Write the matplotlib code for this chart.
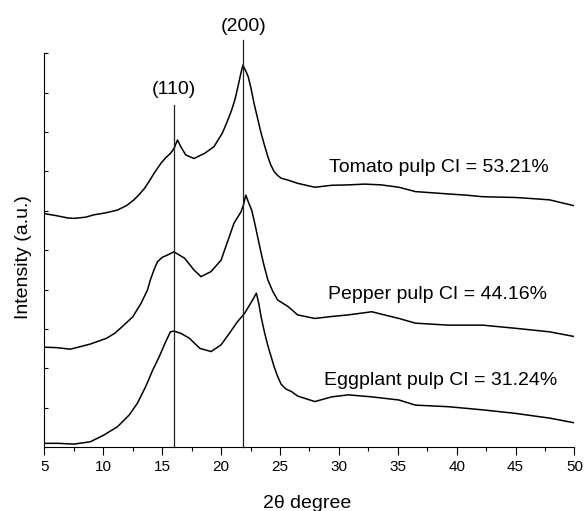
import matplotlib
matplotlib.use("Agg")
import matplotlib.pyplot as plt
from matplotlib.ticker import MultipleLocator

plt.rcParams['font.family'] = ['Liberation Sans', 'DejaVu Sans']

# ---- data ----
tomato_x = [5.0, 6.0, 7.0, 7.5, 8.5, 9.2, 10.2, 11.2, 12.0, 12.6, 13.0, 13.5, 14.0, 14.3, 14.9,
            15.3, 15.7, 16.0, 16.3, 16.6, 17.0, 17.7, 18.6, 19.4, 20.1, 20.5, 20.9, 21.2, 21.4,
            21.65, 21.85, 22.1, 22.3, 22.55, 22.8, 23.1, 23.4, 23.7, 23.97, 24.2, 24.5, 24.8,
            25.1, 25.7, 26.5, 27.96, 29.4, 30.8, 32.2, 33.6, 35.1, 36.5, 37.9, 39.3, 40.8,
            42.2, 43.6, 45.0, 46.5, 47.9, 49.0, 50.0]
tomato_y = [5.93, 5.88, 5.82, 5.81, 5.84, 5.90, 5.95, 6.02, 6.14, 6.28, 6.40, 6.57, 6.80, 6.95, 7.21,
            7.35, 7.46, 7.58, 7.80, 7.62, 7.42, 7.33, 7.46, 7.63, 7.97, 8.25, 8.56, 8.85, 9.11,
            9.45, 9.70, 9.55, 9.41, 9.10, 8.73, 8.35, 7.97, 7.65, 7.38, 7.18, 7.00, 6.90,
            6.83, 6.78, 6.70, 6.60, 6.65, 6.66, 6.68, 6.66, 6.60, 6.49, 6.46, 6.43, 6.40,
            6.36, 6.35, 6.34, 6.31, 6.28, 6.20, 6.13]

pepper_x = [5.0, 6.0, 7.2, 8.0, 8.9, 10.3, 11.0, 11.6, 12.5, 13.2, 13.75, 14.0, 14.3, 14.6, 15.0,
            15.45, 16.0, 16.9, 17.7, 18.3, 19.15, 20.0, 20.6, 21.1, 21.7, 21.9, 22.1, 22.35, 22.6,
            22.85, 23.1, 23.35, 23.6, 23.97, 24.4, 24.8, 25.7, 26.5, 27.96, 29.4, 30.8, 32.8,
            34.0, 35.1, 36.5, 39.3, 42.2, 45.0, 47.9, 50.0]
pepper_y = [2.54, 2.53, 2.49, 2.55, 2.62, 2.77, 2.90, 3.06, 3.31, 3.65, 3.99, 4.25, 4.50, 4.71, 4.82,
            4.88, 4.96, 4.80, 4.50, 4.33, 4.46, 4.75, 5.26, 5.69, 5.98, 6.15, 6.40, 6.20, 6.02,
            5.70, 5.35, 5.00, 4.67, 4.25, 3.95, 3.74, 3.57, 3.36, 3.27, 3.32, 3.36, 3.44,
            3.35, 3.27, 3.15, 3.10, 3.10, 3.02, 2.93, 2.81]

eggplant_x = [5.0, 6.2, 7.5, 8.9, 10.05, 11.2, 12.2, 12.9, 13.6, 14.2, 14.75, 15.3, 15.7, 16.0,
              16.6, 17.3, 18.2, 19.15, 20.0, 20.7, 21.4, 22.0, 22.6, 23.0, 23.2, 23.4, 23.7, 24.0,
              24.5, 24.8, 25.1, 25.5, 26.0, 26.5, 27.96, 29.4, 30.8, 32.8, 35.1, 36.5, 39.3,
              42.2, 45.0, 47.9, 50.0]
eggplant_y = [0.10, 0.10, 0.08, 0.14, 0.31, 0.52, 0.82, 1.12, 1.54, 1.96, 2.30, 2.68, 2.93, 2.95,
              2.89, 2.77, 2.51, 2.43, 2.60, 2.89, 3.19, 3.40, 3.70, 3.91, 3.65, 3.31, 2.90, 2.55,
              2.05, 1.80, 1.60, 1.48, 1.41, 1.30, 1.16, 1.28, 1.33, 1.28, 1.20, 1.07, 1.03,
              0.95, 0.86, 0.74, 0.62]

peak_pos = [16.0, 21.9]
peak_top = [8.69, 10.34]
peak_labels = ["(110)", "(200)"]

sample_labels = ["Tomato pulp CI = 53.21%", "Pepper pulp CI = 44.16%", "Eggplant pulp CI = 31.24%"]
label_x = [29.2, 29.1, 28.7]
label_y = [6.99, 3.76, 1.58]

# ---- figure ----
fig = plt.figure(figsize=(5.84, 5.11), dpi=100)
ax = fig.add_axes([0.076, 0.1247, 0.9076, 0.771])

for xs, ys in [(tomato_x, tomato_y), (pepper_x, pepper_y), (eggplant_x, eggplant_y)]:
    ax.plot(xs, ys, color='black', lw=1.1)

for xp, yt, lab, ly in zip(peak_pos, peak_top, peak_labels, [8.96, 10.57]):
    ax.plot([xp, xp], [0, yt], color='#222222', lw=0.9, clip_on=False)
    ax.text(xp, ly, lab, ha='center', va='baseline', fontsize=14)

for lab, lx, ly in zip(sample_labels, label_x, label_y):
    ax.text(lx, ly, lab, ha='left', va='baseline', fontsize=14)

ax.set_xlim(5, 50)
ax.set_ylim(0, 10)
ax.spines['top'].set_visible(False)
ax.spines['right'].set_visible(False)
ax.xaxis.set_major_locator(MultipleLocator(5))
ax.xaxis.set_minor_locator(MultipleLocator(2.5))
ax.yaxis.set_major_locator(MultipleLocator(1))
ax.tick_params(axis='x', which='major', direction='out', length=5.5, width=0.8, labelsize=11, pad=4)
ax.tick_params(axis='x', which='minor', direction='out', length=2.6, width=0.8)
ax.tick_params(axis='y', which='major', direction='in', length=3, width=0.8, labelleft=False)

ax.set_xlabel("2θ degree", fontsize=14)
ax.xaxis.label.set_va('baseline')
ax.xaxis.set_label_coords(0.4955, -0.154)
ax.set_ylabel("Intensity (a.u.)", fontsize=14)
ax.yaxis.label.set_va('center')
ax.yaxis.set_label_coords(-0.0394, 0.484)

fig.savefig("out.png", dpi=100)
